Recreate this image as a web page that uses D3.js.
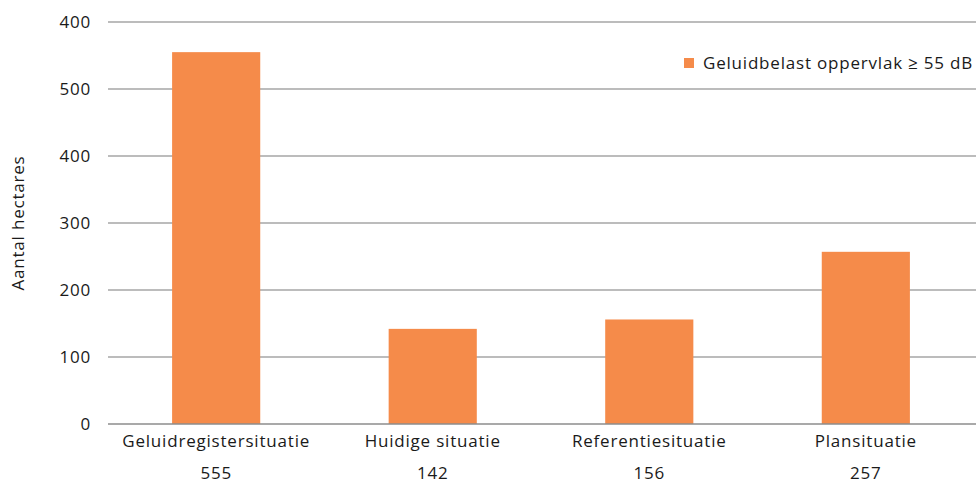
<!DOCTYPE html>
<html><head><meta charset="utf-8">
<script src="https://cdn.jsdelivr.net/npm/d3@7"></script>
<style>body{margin:0;background:#fff}svg text{font-family:"Open Sans",sans-serif;fill:#1a1a1a;letter-spacing:0.8px}</style>
</head><body><svg id="c" width="976" height="485"></svg>
<script>
const categories = ["Geluidregistersituatie","Huidige situatie","Referentiesituatie","Plansituatie"];
const values = [555,142,156,257];
const valueLabels = ["555","142","156","257"];
const tickValues = [0,100,200,300,400,500,600];
const tickLabels = ["0","100","200","300","400","500","400"];
const seriesName = "Geluidbelast oppervlak \u2265 55 dB";
const yTitle = "Aantal hectares";

const FS = "17px";
const svg = d3.select("#c");
const m = {l:108, r:2, t:22, b:61};
const W = 976, H = 485;
const x = d3.scaleBand().domain(categories).range([m.l, W - m.r]).paddingInner(0.593).paddingOuter(0.296);
const y = d3.scaleLinear().domain([0,600]).range([H - m.b, m.t]);

// grid
svg.append("g").selectAll("line").data(tickValues.slice(1)).join("line")
  .attr("x1", m.l).attr("x2", W).attr("y1", d=>y(d)).attr("y2", d=>y(d))
  .attr("stroke","#a6a6a6").attr("stroke-width",1.3);

// y axis labels
const ya = svg.append("g").attr("transform",`translate(${m.l},0)`)
  .call(d3.axisLeft(y).tickValues(tickValues).tickSize(0).tickPadding(17).tickFormat((d,i)=>tickLabels[i]));
ya.select(".domain").remove();
ya.selectAll("text").style("font-size",FS).style("font-family","Open Sans").attr("fill","#1a1a1a");

// bars
svg.append("g").selectAll("rect").data(values).join("rect")
  .attr("x",(d,i)=>x(categories[i])).attr("width",x.bandwidth())
  .attr("y",d=>y(d)).attr("height",d=>y(0)-y(d)).attr("fill","#f58b4a");

// x axis
const xa = svg.append("g").attr("transform",`translate(0,${y(0)})`)
  .call(d3.axisBottom(x).tickSize(0).tickPadding(11));
xa.select(".domain").attr("d",`M${m.l},0H${W}`).attr("stroke","#8c8c8c").attr("stroke-width",1.5);
xa.selectAll("text").style("font-size",FS).style("font-family","Open Sans").attr("fill","#1a1a1a");

// value labels under categories
svg.append("g").selectAll("text").data(valueLabels).join("text")
  .attr("x",(d,i)=>x(categories[i])+x.bandwidth()/2).attr("y",y(0)+55)
  .attr("text-anchor","middle").style("font-size",FS).text(d=>d);

// y title
svg.append("text").attr("transform",`translate(24,${(y(0)+y(600))/2}) rotate(-90)`)
  .attr("text-anchor","middle").style("font-size",FS).text(yTitle);

// legend
svg.append("rect").attr("x",684).attr("y",58).attr("width",10).attr("height",10).attr("fill","#f58b4a");
svg.append("text").attr("x",703).attr("y",69).style("font-size",FS).text(seriesName);
</script></body></html>
